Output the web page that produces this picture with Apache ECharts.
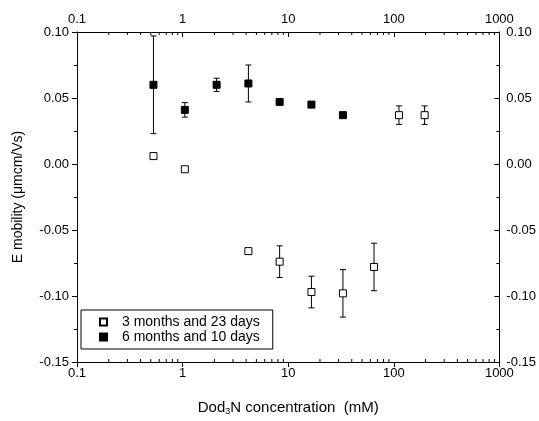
<!DOCTYPE html>
<html>
<head>
<meta charset="utf-8">
<script src="https://cdn.jsdelivr.net/npm/echarts@6/dist/echarts.min.js"></script>
<style>
  html, body { margin: 0; background: #fff; }
  #chart { width: 539px; height: 421px; }
</style>
</head>
<body>
<div id="chart"></div>
<script>
// 3 months and 23 days (open squares)
const openX = [0.53, 1.05, 4.2, 8.3, 16.6, 33, 65, 112, 196];
const openY = [0.006, -0.004, -0.066, -0.074, -0.097, -0.098, -0.078, 0.037, 0.037];
const openErr = [0, 0, 0.002, 0.012, 0.012, 0.018, 0.018, 0.007, 0.007];

// 6 months and 10 days (filled squares)
const fillX = [0.53, 1.05, 2.1, 4.2, 8.3, 16.6, 33];
const fillY = [0.060, 0.041, 0.060, 0.061, 0.047, 0.045, 0.037];
const fillErr = [0.037, 0.0055, 0.005, 0.014, 0, 0, 0];

// log axis minor ticks
const minorTicks = [0.2, 0.3, 0.4, 0.5, 0.6, 0.7, 0.8, 0.9,
  2, 3, 4, 5, 6, 7, 8, 9,
  20, 30, 40, 50, 60, 70, 80, 90,
  200, 300, 400, 500, 600, 700, 800, 900];

const yMin = -0.15, yMax = 0.10;
const font = 'Liberation Sans, Arial, sans-serif';

const chart = echarts.init(document.getElementById('chart'));

function errRender(params, api) {
  const x = api.value(0), y = api.value(1), e = api.value(2);
  if (!e) return null;
  const top = api.coord([x, y + e]);
  const bot = api.coord([x, y - e]);
  const w = 3;
  const st = { stroke: '#000', lineWidth: 1 };
  return {
    type: 'group',
    children: [
      { type: 'line', shape: { x1: top[0], y1: top[1], x2: bot[0], y2: bot[1] }, style: st },
      { type: 'line', shape: { x1: top[0] - w, y1: top[1], x2: top[0] + w, y2: top[1] }, style: st },
      { type: 'line', shape: { x1: bot[0] - w, y1: bot[1], x2: bot[0] + w, y2: bot[1] }, style: st }
    ]
  };
}

// minor ticks of the two log axes (bottom points up, top points down)
function minorRender(params, api) {
  const v = api.value(0);
  const b = api.coord([v, yMin]);
  const t = api.coord([v, yMax]);
  const st = { stroke: '#000', lineWidth: 1 };
  return {
    type: 'group',
    children: [
      { type: 'line', shape: { x1: b[0], y1: b[1], x2: b[0], y2: b[1] - 3 }, style: st },
      { type: 'line', shape: { x1: t[0], y1: t[1], x2: t[0], y2: t[1] + 3 }, style: st }
    ]
  };
}

const xCommon = {
  type: 'log',
  logBase: 10,
  min: 0.1,
  max: 1000,
  axisLine: { show: true, onZero: false, lineStyle: { color: '#000', width: 1 } },
  axisTick: { show: true, length: 5, lineStyle: { color: '#000' } },
  axisLabel: { color: '#000', fontSize: 13, fontFamily: font, margin: 5, formatter: v => String(v) },
  splitLine: { show: false }
};

const yCommon = {
  type: 'value',
  min: yMin,
  max: yMax,
  interval: 0.05,
  axisLine: { show: true, onZero: false, lineStyle: { color: '#000', width: 1 } },
  axisTick: { show: true, length: 5, lineStyle: { color: '#000' } },
  minorTick: { show: true, splitNumber: 2, length: 3, lineStyle: { color: '#000' } },
  axisLabel: {
    color: '#000', fontSize: 13, fontFamily: font, margin: 8,
    formatter: v => (Math.abs(v) < 1e-9 ? 0 : v).toFixed(2)
  },
  splitLine: { show: false }
};

chart.setOption({
  animation: false,
  backgroundColor: '#fff',
  grid: { left: 77, right: 39, top: 32, bottom: 51 },
  xAxis: [
    Object.assign({}, xCommon, {
      position: 'bottom',
      name: 'Dod{sub|3}N concentration  (mM)',
      nameLocation: 'middle',
      nameGap: 38,
      nameTextStyle: {
        color: '#000', fontSize: 15, fontFamily: font,
        rich: { sub: { fontSize: 9, verticalAlign: 'bottom', padding: [7, 0, 0, 0], fontFamily: font, color: '#000' } }
      }
    }),
    Object.assign({}, xCommon, {
      position: 'top',
      axisTick: { show: true, inside: true, length: 5, lineStyle: { color: '#000' } },
      axisLabel: Object.assign({}, xCommon.axisLabel, { margin: 6 })
    })
  ],
  yAxis: [
    Object.assign({}, yCommon, {
      position: 'left',
      name: 'E mobility (\u03bcmcm/Vs)',
      nameLocation: 'middle',
      nameGap: 52,
      nameTextStyle: { color: '#000', fontSize: 14, fontFamily: font }
    }),
    Object.assign({}, yCommon, {
      position: 'right',
      axisTick: { show: true, inside: true, length: 5, lineStyle: { color: '#000' } },
      minorTick: { show: true, splitNumber: 2, length: 3, lineStyle: { color: '#000' } },
      axisLabel: Object.assign({}, yCommon.axisLabel, { margin: 7 })
    })
  ],
  legend: {
    orient: 'vertical',
    left: 81,
    top: 310,
    data: ['3 months and 23 days', '6 months and 10 days'],
    itemWidth: 7,
    itemHeight: 7,
    itemGap: 1,
    padding: [5, 13, 5, 18],
    borderColor: '#000',
    borderWidth: 1,
    textStyle: { color: '#000', fontSize: 14, fontFamily: font, padding: [0, 0, 0, 10] }
  },
  series: [
    {
      type: 'custom',
      silent: true,
      renderItem: minorRender,
      data: minorTicks.map(v => [v, 0]),
      z: 1
    },
    {
      type: 'custom',
      silent: true,
      renderItem: errRender,
      data: openX.map((x, i) => [x, openY[i], openErr[i]]),
      z: 2
    },
    {
      type: 'custom',
      silent: true,
      renderItem: errRender,
      data: fillX.map((x, i) => [x, fillY[i], fillErr[i]]),
      z: 2
    },
    {
      name: '3 months and 23 days',
      type: 'scatter',
      symbol: 'rect',
      symbolSize: 7,
      itemStyle: { color: '#fff', borderColor: '#000', borderWidth: 1, opacity: 1 },
      data: openX.map((x, i) => [x, openY[i]]),
      z: 3
    },
    {
      name: '6 months and 10 days',
      type: 'scatter',
      symbol: 'rect',
      symbolSize: 7,
      itemStyle: { color: '#000', borderColor: '#000', borderWidth: 1, opacity: 1 },
      data: fillX.map((x, i) => [x, fillY[i]]),
      z: 3
    }
  ]
});
</script>
</body>
</html>
